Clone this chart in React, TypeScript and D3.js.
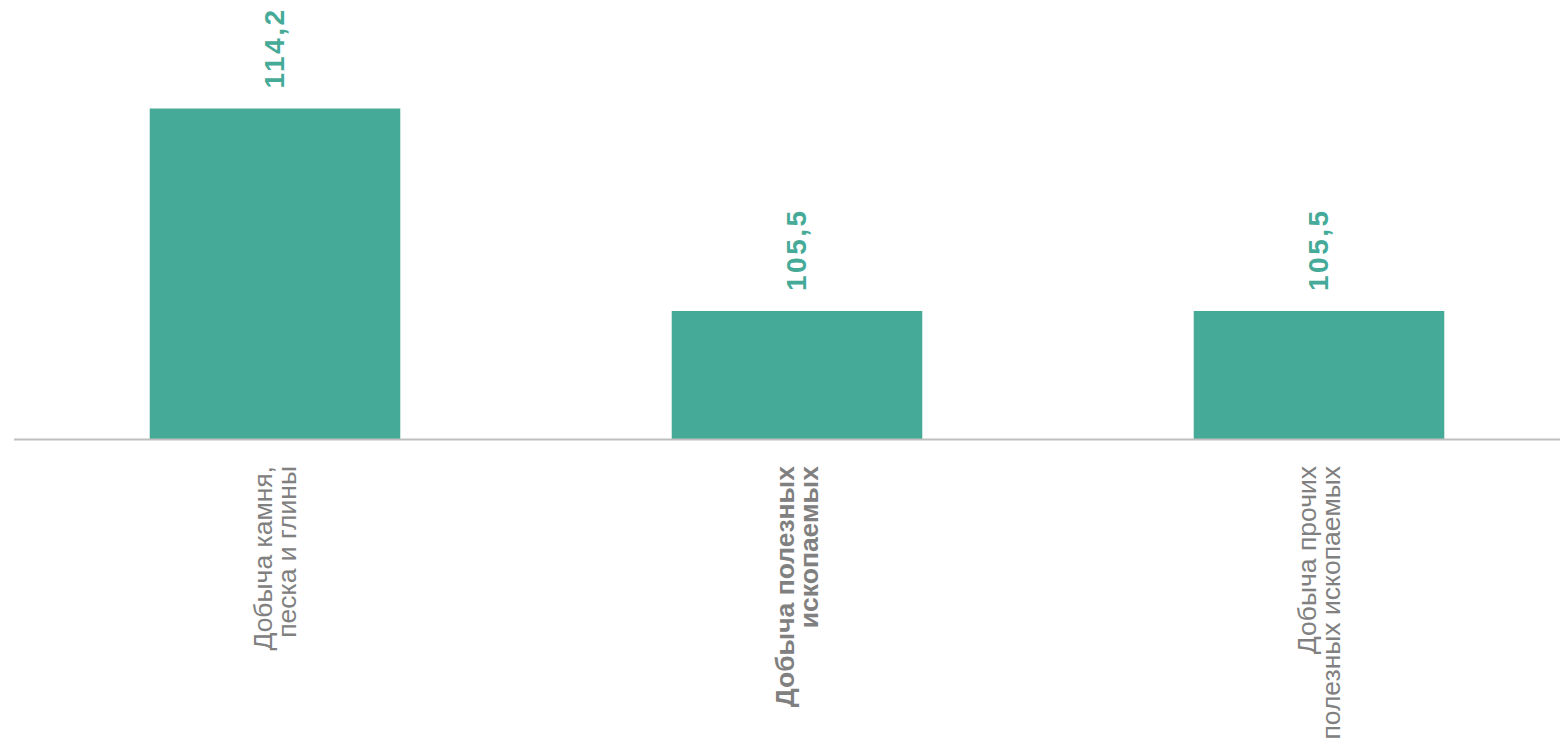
import React, { useEffect, useRef } from 'react';
import * as d3 from 'd3';

const categories: string[][] = [
  ['Добыча камня,', 'песка и глины'],
  ['Добыча полезных', 'ископаемых'],
  ['Добыча прочих', 'полезных ископаемых'],
];
const values = [114.2, 105.5, 105.5];
const boldLabel = [false, true, false];

const App: React.FC = () => {
  const svgRef = useRef<SVGSVGElement>(null);

  useEffect(() => {
    if (!svgRef.current) return;
    d3.select(svgRef.current).selectAll('*').remove();

    const width = 1560;
    const height = 741;
    const baseY = 439;
    const barColor = '#46aa98';

    const svg = d3.select(svgRef.current)
      .attr('width', width)
      .attr('height', height)
      .style('font-family', '"Liberation Sans", Arial, sans-serif');

    const keys = categories.map((_, i) => String(i));

    // x band across plot area
    const x = d3.scaleBand()
      .domain(keys)
      .range([14, 1580])
      .paddingInner(0.52)
      .paddingOuter(0.26);

    const y = d3.scaleLinear()
      .domain([100, 114.2])
      .range([baseY, 108.5]);

    // bars
    svg.selectAll('rect.bar')
      .data(values)
      .enter().append('rect')
      .attr('class', 'bar')
      .attr('x', (_, i) => x(keys[i]) || 0)
      .attr('y', d => y(d))
      .attr('width', x.bandwidth())
      .attr('height', d => baseY - y(d))
      .attr('fill', barColor);

    // baseline
    svg.append('line')
      .attr('x1', 14)
      .attr('x2', 1560)
      .attr('y1', baseY + 0.5)
      .attr('y2', baseY + 0.5)
      .attr('stroke', '#bfbfbf')
      .attr('stroke-width', 2);

    // value labels
    values.forEach((v, i) => {
      const cx = (x(keys[i]) || 0) + x.bandwidth() / 2;
      svg.append('text')
        .attr('transform', `translate(${cx + 9},${y(v) - 20}) rotate(-90)`)
        .attr('text-anchor', 'start')
        .style('font-size', '28px')
        .style('font-weight', 'bold')
        .style('letter-spacing', '2.5px')
        .attr('fill', barColor)
        .text(d3.format('.1f')(v).replace('.', ','));
    });

    // category labels
    categories.forEach((lines, i) => {
      const cx = (x(keys[i]) || 0) + x.bandwidth() / 2;
      const t = svg.append('text')
        .attr('transform', `translate(${cx},466) rotate(-90)`)
        .attr('text-anchor', 'end')
        .style('font-size', '26.5px')
        .style('font-weight', boldLabel[i] ? 'bold' : 'normal')
        .attr('fill', '#808080');
      lines.forEach((ln, j) => {
        t.append('tspan')
          .attr('x', 0)
          .attr('y', -3 + j * 24)
          .text(ln);
      });
    });
  }, []);

  return <svg ref={svgRef} style={{ position: 'absolute', left: 0, top: 0 }}></svg>;
};

export default App;
